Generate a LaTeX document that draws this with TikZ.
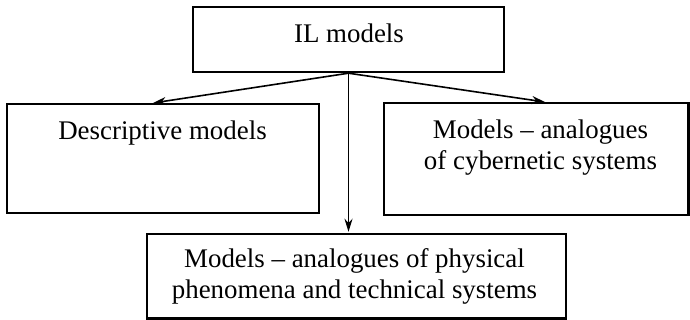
\documentclass[tikz,border=0pt]{standalone}
\usepackage{fontspec}
\setmainfont{Liberation Serif}
\usetikzlibrary{arrows.meta}
\begin{document}
\begin{tikzpicture}[x=1pt,y=-1pt,
  box/.style={draw, line width=2.4pt, inner sep=0pt},
  lbl/.style={font=\fontsize{26.9}{31}\selectfont, inner sep=0pt, anchor=base, align=center},
  conn/.style={line width=1.6pt, -{Stealth[length=13pt,width=8pt,inset=4pt]}}]
\useasboundingbox (0,0) rectangle (690,320);
\node[box, minimum width=311pt, minimum height=65pt] (top) at (348.5,39.5) {};
\node[box, minimum width=312pt, minimum height=109pt] (left) at (163,158.5) {};
\node[box, minimum width=304.5pt, minimum height=112pt] (right) at (536.25,159) {};
\node[box, minimum width=419pt, minimum height=84.5pt] (bottom) at (356.5,276.25) {};
\node[lbl] (t0) at (349,43) {IL models};
\node[lbl] (t1) at (162.5,140) {Descriptive models};
\node[lbl] (t2) at (540.5,170) {Models – analogues\\of cybernetic systems};
\node[lbl] (t3) at (354.5,298) {Models – analogues of physical\\phenomena and technical systems};
\coordinate (lt) at (153,103);
\coordinate (rt) at (545,102);
\coordinate (bt) at ([yshift=1pt]top.south |- bottom.north);
\draw[conn] (top.south) -- (lt);
\draw[conn] (top.south) -- (rt);
\draw[conn] (top.south) -- (bt);
\end{tikzpicture}
\end{document}
